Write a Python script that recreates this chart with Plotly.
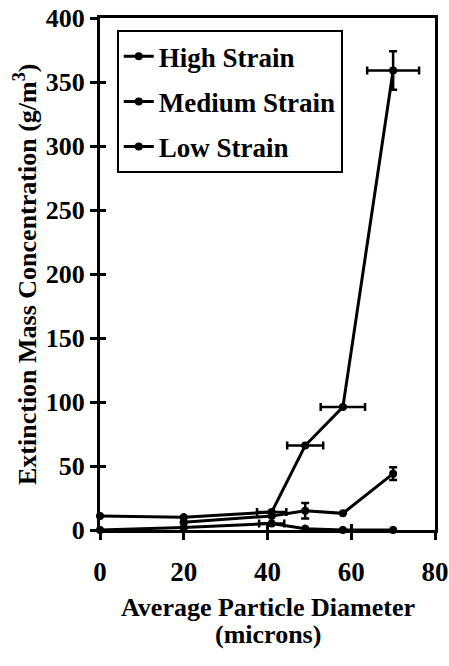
import plotly.graph_objects as go

# Data (Average Particle Diameter in microns, concentration in g/m^3)
high_x = [0, 20, 41, 49, 58, 70]
high_y = [11, 10, 14, 66, 96, 359]
high_ex = [0, 0, 3.5, 4.3, 5.3, 6.2]
high_ey = [0, 0, 0, 0, 0, 15]

med_x = [20, 41, 49, 58, 70]
med_y = [6, 11, 15, 13, 44]
med_ey = [0, 0, 6, 0, 5]

low_x = [0, 20, 41, 49, 58, 70]
low_y = [0, 2, 5, 1, 0, 0]
low_ex = [0, 0, 3, 0, 0, 0]

x_ticks = [0, 20, 40, 60, 80]
y_ticks = [0, 50, 100, 150, 200, 250, 300, 350, 400]

x_title_1 = "Average Particle Diameter"
x_title_2 = "(microns)"
y_title = "Extinction Mass Concentration (g/m<sup>3</sup>)"

FONT = "Liberation Serif"
W, H = 449, 666
L, R, T, B = 100, 14, 18, 136

fig = go.Figure()

def add(name, x, y, ex=None, ey=None):
    fig.add_trace(go.Scatter(
        x=x, y=y, name="<b>" + name + "</b>", mode="lines+markers",
        line=dict(color="black", width=3),
        marker=dict(color="black", size=8, symbol="circle"),
        error_x=dict(type="data", array=ex, visible=ex is not None,
                     color="black", thickness=2.5, width=4),
        error_y=dict(type="data", array=ey, visible=ey is not None,
                     color="black", thickness=2.5, width=4),
        cliponaxis=False,
        legendgroup=name,
    ))

add("High Strain", high_x, high_y, high_ex, high_ey)
add("Medium Strain", med_x, med_y, None, med_ey)
add("Low Strain", low_x, low_y, low_ex, None)

# overlay axes to give the inward half of the cross ticks
fig.add_trace(go.Scatter(x=[None], y=[None], xaxis="x2", yaxis="y2",
                         showlegend=False, hoverinfo="skip"))

fig.update_layout(
    width=W, height=H,
    margin=dict(l=L, r=R, t=T, b=B, autoexpand=False),
    paper_bgcolor="white", plot_bgcolor="white",
    font=dict(family=FONT, color="black"),
    showlegend=True,
    legend=dict(
        x=0.05, y=0.976, xanchor="left", yanchor="top",
        bordercolor="black", borderwidth=2, bgcolor="white",
        font=dict(family=FONT, size=27, color="black"),
        tracegroupgap=7, traceorder="grouped", itemwidth=30,
    ),
    xaxis=dict(
        range=[0, 80], tickvals=x_ticks, automargin=False,
        ticktext=["<b>%d</b>" % v for v in x_ticks],
        showline=True, linecolor="black", linewidth=3, mirror=True,
        ticks="outside", ticklen=7, tickwidth=3, tickcolor="black",
        ticklabelstandoff=9,
        tickfont=dict(family=FONT, size=27, color="black"),
        showgrid=False, zeroline=False,
    ),
    yaxis=dict(
        range=[0, 400], tickvals=y_ticks, automargin=False,
        ticktext=["<b>%d</b>" % v for v in y_ticks],
        showline=True, linecolor="black", linewidth=3, mirror=True,
        ticks="outside", ticklen=7, tickwidth=3, tickcolor="black",
        tickfont=dict(family=FONT, size=26, color="black"),
        showgrid=False, zeroline=False,
    ),
    xaxis2=dict(range=[0, 80], overlaying="x", tickvals=x_ticks, automargin=False,
                showticklabels=False, ticks="inside", ticklen=6, tickwidth=3,
                tickcolor="black", showgrid=False, zeroline=False, showline=False),
    yaxis2=dict(range=[0, 400], overlaying="y", tickvals=y_ticks, automargin=False,
                showticklabels=False, ticks="inside", ticklen=6, tickwidth=3,
                tickcolor="black", showgrid=False, zeroline=False, showline=False),
    annotations=[
        dict(text="<b>" + x_title_1 + "</b>", xref="paper", yref="paper",
             x=0.5, y=-(607 - 530) / 512, xanchor="center", yanchor="middle",
             showarrow=False, font=dict(family=FONT, size=26, color="black")),
        dict(text="<b>" + x_title_2 + "</b>", xref="paper", yref="paper",
             x=0.5, y=-(634 - 530) / 512, xanchor="center", yanchor="middle",
             showarrow=False, font=dict(family=FONT, size=26, color="black")),
        dict(text="<b>" + y_title + "</b>", xref="paper", yref="paper",
             x=-(100 - 25) / 335, y=(530 - 275) / 512, xanchor="center", yanchor="middle",
             textangle=-90, showarrow=False,
             font=dict(family=FONT, size=26, color="black", weight="bold")),
    ],
)

fig.write_html("out.html")
